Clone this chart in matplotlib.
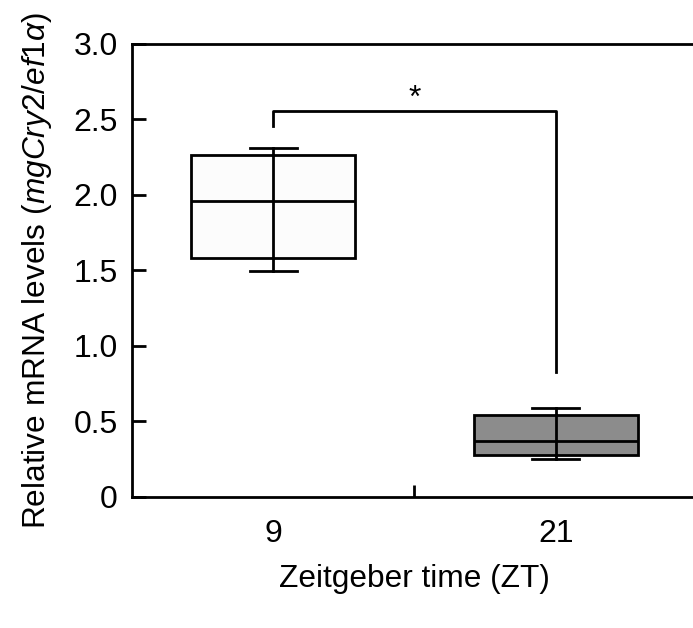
import matplotlib
matplotlib.use("Agg")
import matplotlib.pyplot as plt

plt.rcParams['font.family'] = ['Liberation Sans', 'DejaVu Sans']
plt.rcParams['mathtext.fontset'] = 'custom'
plt.rcParams['mathtext.rm'] = 'Liberation Sans'
plt.rcParams['mathtext.it'] = 'Liberation Sans:italic'

# values
groups = ['9', '21']
q1 = [1.585, 0.276]
median = [1.962, 0.371]
q3 = [2.265, 0.545]
whisker_low = [1.497, 0.252]
whisker_high = [2.309, 0.587]
box_colors = ['#fcfcfc', '#8c8c8c']

bracket_top = 2.555
bracket_left_end = 2.46
bracket_right_end = 0.83
star_label = '*'

y_ticks = [0, 0.5, 1.0, 1.5, 2.0, 2.5, 3.0]
y_tick_labels = ['0', '0.5', '1.0', '1.5', '2.0', '2.5', '3.0']

stats = []
for i in range(len(groups)):
    stats.append({'q1': q1[i], 'med': median[i], 'q3': q3[i],
                  'whislo': whisker_low[i], 'whishi': whisker_high[i],
                  'fliers': []})

fig = plt.figure(figsize=(6.93, 6.28), dpi=100)
ax = fig.add_axes([0.19, 0.2086, 0.816, 0.7214])

pos = [1, 2]
lw = 2.0
bp = ax.bxp(stats, positions=pos, widths=0.58, capwidths=0.166,
            patch_artist=True, showfliers=False,
            boxprops=dict(linewidth=lw, edgecolor='black'),
            medianprops=dict(color='black', linewidth=lw),
            whiskerprops=dict(color='black', linewidth=lw),
            capprops=dict(color='black', linewidth=lw))
for patch, c in zip(bp['boxes'], box_colors):
    patch.set_facecolor(c)

# whisker line runs through the box in the reference
for i, p in enumerate(pos):
    ax.plot([p, p], [q1[i], q3[i]], color='black', lw=lw, zorder=3)

# significance bracket
ax.plot([pos[0], pos[0], pos[1], pos[1]],
        [bracket_left_end, bracket_top, bracket_top, bracket_right_end],
        color='black', lw=lw)
ax.text(1.5, bracket_top - 0.02, star_label, ha='center', va='bottom', fontsize=23)

ax.set_xlim(0.5, 2.5)
ax.set_ylim(0, 3.0)
ax.set_yticks(y_ticks)
ax.set_yticklabels(y_tick_labels)
ax.set_xticks(pos)
ax.set_xticklabels(groups)
ax.set_xticks([1.5], minor=True)
ax.tick_params(axis='x', which='major', length=0, pad=16, labelsize=23)
ax.tick_params(axis='x', which='minor', direction='in', length=8.5, width=lw)
ax.tick_params(axis='y', direction='in', length=10, width=lw, pad=10, labelsize=23)

for s in ['left', 'bottom', 'top']:
    ax.spines[s].set_linewidth(lw)
ax.spines['right'].set_visible(False)

ax.set_xlabel('Zeitgeber time (ZT)', fontsize=22.8, labelpad=11)
ax.set_ylabel(r'Relative mRNA levels ($\mathit{mgCry2/ef1\alpha}$)', fontsize=22.8, labelpad=14)

fig.savefig('out.png', dpi=100)
